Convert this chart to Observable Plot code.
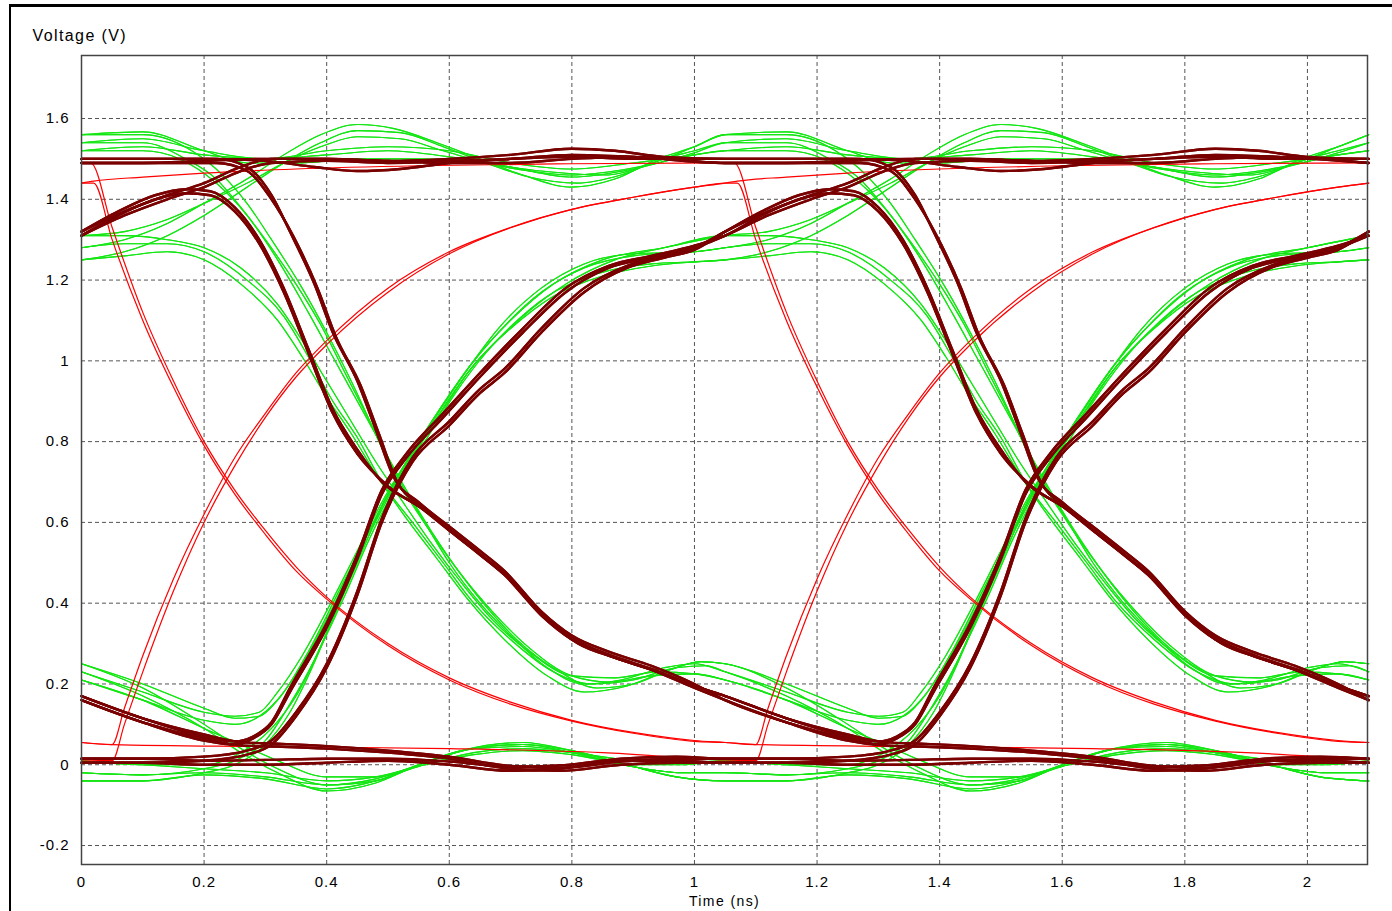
<!DOCTYPE html>
<html><head><meta charset="utf-8">
<script src="https://cdn.jsdelivr.net/npm/d3@7"></script>
<script src="https://cdn.jsdelivr.net/npm/@observablehq/plot@0.6"></script>
<style>
body{margin:0;background:#fff;}
#wrap{position:relative;width:1392px;height:911px;overflow:hidden;font-family:"Liberation Sans",Arial,sans-serif;}
#border{position:absolute;left:9px;top:4px;width:1400px;height:920px;border-left:2px solid #000;border-top:3px solid #000;pointer-events:none;}
#chart svg text{letter-spacing:1px;}
#chart svg g[aria-label="text"] text{letter-spacing:1.4px;}
</style></head><body><div id="wrap"><div id="chart"></div><div id="border"></div></div>
<script>
// unit interval (ns) read from the repeating eye
const UI = 1.05;
const xTicks = [0,0.2,0.4,0.6,0.8,1,1.2,1.4,1.6,1.8,2];
const yTicks = [-0.2,0,0.2,0.4,0.6,0.8,1,1.2,1.4,1.6];

// ---- green traces: one-UI shapes keyed by (previous, current, next) bit, [time in UI, volts]
const g111a = [[0,1.56],[0.1,1.567],[0.2,1.52],[0.27,1.49],[0.35,1.49],[0.45,1.5],[0.55,1.5],[0.65,1.49],[0.75,1.47],[0.85,1.46],[0.95,1.5],[1.0,1.53],[1.05,1.56]];
const g110a = [[0,1.56],[0.1,1.56],[0.18,1.52],[0.23,1.46],[0.27,1.39],[0.31,1.3],[0.36,1.18],[0.4,1.07],[0.44,0.95],[0.48,0.82],[0.52,0.7],[0.56,0.6],[0.6,0.5],[0.65,0.4],[0.7,0.32],[0.76,0.24],[0.82,0.2],[0.88,0.21],[0.95,0.24],[1.0,0.25],[1.05,0.23]];
const g011a = [[0,1.28],[0.07,1.3],[0.14,1.34],[0.2,1.39],[0.27,1.45],[0.33,1.51],[0.39,1.56],[0.45,1.585],[0.51,1.575],[0.58,1.54],[0.65,1.5],[0.72,1.46],[0.8,1.43],[0.87,1.45],[0.94,1.5],[1.0,1.53],[1.05,1.56]];
const g010a = [[0,1.28],[0.07,1.29],[0.14,1.29],[0.2,1.27],[0.27,1.2],[0.33,1.11],[0.37,1.01],[0.41,0.9],[0.45,0.81],[0.49,0.7],[0.54,0.6],[0.59,0.5],[0.64,0.4],[0.7,0.31],[0.77,0.23],[0.83,0.2],[0.9,0.21],[0.97,0.24],[1.02,0.245],[1.05,0.23]];
const g000a = [[0,-0.04],[0.1,-0.04],[0.2,-0.025],[0.3,-0.035],[0.4,-0.06],[0.48,-0.04],[0.55,0.0],[0.62,0.035],[0.72,0.05],[0.8,0.035],[0.89,0.0],[0.97,-0.03],[1.05,-0.04]];
const g001a = [[0,-0.04],[0.1,-0.04],[0.2,-0.02],[0.25,0.0],[0.3,0.05],[0.34,0.13],[0.37,0.22],[0.41,0.36],[0.45,0.5],[0.49,0.64],[0.53,0.75],[0.58,0.87],[0.63,0.98],[0.68,1.07],[0.75,1.17],[0.82,1.23],[0.9,1.26],[1.0,1.27],[1.05,1.28]];
const g101a = [[0,0.23],[0.1,0.18],[0.2,0.13],[0.25,0.12],[0.29,0.13],[0.32,0.18],[0.36,0.27],[0.41,0.41],[0.45,0.53],[0.49,0.65],[0.53,0.75],[0.58,0.87],[0.63,0.98],[0.68,1.08],[0.75,1.18],[0.82,1.24],[0.9,1.265],[1.0,1.27],[1.05,1.28]];
const g100a = [[0,0.23],[0.1,0.17],[0.2,0.09],[0.26,0.03],[0.32,-0.02],[0.4,-0.065],[0.48,-0.045],[0.55,0.0],[0.62,0.035],[0.72,0.055],[0.8,0.035],[0.89,0.0],[0.97,-0.03],[1.05,-0.04]];

const g111b = [[0,1.52],[0.1,1.53],[0.2,1.51],[0.3,1.5],[0.4,1.52],[0.5,1.53],[0.6,1.52],[0.7,1.49],[0.8,1.475],[0.9,1.49],[1.0,1.51],[1.05,1.52]];
const g110b = [[0,1.52],[0.1,1.52],[0.16,1.5],[0.22,1.44],[0.27,1.36],[0.32,1.25],[0.37,1.12],[0.41,1.01],[0.45,0.9],[0.49,0.79],[0.53,0.68],[0.57,0.58],[0.62,0.47],[0.67,0.38],[0.73,0.29],[0.8,0.22],[0.86,0.205],[0.93,0.22],[1.0,0.225],[1.05,0.21]];
const g011b = [[0,1.31],[0.07,1.32],[0.14,1.35],[0.2,1.39],[0.27,1.44],[0.33,1.49],[0.39,1.53],[0.45,1.555],[0.52,1.55],[0.59,1.52],[0.66,1.49],[0.73,1.47],[0.8,1.46],[0.87,1.47],[0.94,1.49],[1.0,1.51],[1.05,1.52]];
const g010b = [[0,1.31],[0.07,1.31],[0.14,1.3],[0.2,1.28],[0.26,1.23],[0.32,1.14],[0.36,1.05],[0.4,0.95],[0.44,0.85],[0.48,0.75],[0.52,0.66],[0.57,0.55],[0.62,0.45],[0.67,0.36],[0.73,0.28],[0.8,0.22],[0.87,0.215],[0.94,0.23],[1.0,0.225],[1.05,0.21]];
const g000b = [[0,0.01],[0.1,0.0],[0.2,-0.01],[0.3,-0.02],[0.4,-0.04],[0.48,-0.03],[0.56,0.0],[0.64,0.025],[0.72,0.035],[0.8,0.025],[0.9,0.0],[0.98,0.0],[1.05,0.01]];
const g001b = [[0,0.01],[0.1,0.0],[0.2,0.0],[0.26,0.03],[0.31,0.09],[0.35,0.17],[0.39,0.29],[0.43,0.42],[0.47,0.56],[0.51,0.68],[0.56,0.8],[0.61,0.92],[0.66,1.02],[0.72,1.11],[0.79,1.19],[0.87,1.25],[0.95,1.28],[1.05,1.31]];
const g101b = [[0,0.21],[0.1,0.16],[0.2,0.11],[0.25,0.1],[0.29,0.12],[0.33,0.18],[0.37,0.28],[0.42,0.43],[0.46,0.55],[0.5,0.67],[0.54,0.77],[0.59,0.89],[0.64,1.0],[0.7,1.1],[0.77,1.19],[0.85,1.25],[0.95,1.28],[1.05,1.31]];
const g100b = [[0,0.21],[0.1,0.16],[0.2,0.09],[0.26,0.05],[0.32,0.01],[0.4,-0.03],[0.48,-0.03],[0.56,0.0],[0.64,0.03],[0.72,0.04],[0.8,0.03],[0.9,0.01],[0.98,0.005],[1.05,0.01]];

const g111c = [[0,1.54],[0.1,1.55],[0.2,1.52],[0.3,1.5],[0.4,1.51],[0.5,1.52],[0.6,1.505],[0.7,1.48],[0.8,1.455],[0.9,1.475],[1.0,1.515],[1.05,1.54]];
const g110c = [[0,1.54],[0.1,1.54],[0.17,1.5],[0.22,1.45],[0.26,1.38],[0.3,1.3],[0.35,1.19],[0.39,1.09],[0.43,0.97],[0.47,0.85],[0.51,0.72],[0.55,0.62],[0.6,0.51],[0.65,0.41],[0.71,0.31],[0.78,0.23],[0.84,0.19],[0.9,0.2],[0.96,0.235],[1.01,0.255],[1.05,0.25]];
const g011c = [[0,1.25],[0.07,1.27],[0.14,1.31],[0.2,1.36],[0.27,1.43],[0.33,1.49],[0.39,1.54],[0.45,1.57],[0.52,1.565],[0.59,1.53],[0.66,1.49],[0.73,1.455],[0.81,1.44],[0.88,1.46],[0.95,1.5],[1.0,1.52],[1.05,1.54]];
const g010c = [[0,1.25],[0.07,1.26],[0.14,1.27],[0.2,1.25],[0.26,1.19],[0.32,1.1],[0.36,1.01],[0.4,0.91],[0.44,0.82],[0.48,0.72],[0.53,0.61],[0.58,0.51],[0.63,0.41],[0.69,0.31],[0.76,0.22],[0.82,0.18],[0.89,0.195],[0.96,0.235],[1.01,0.255],[1.05,0.25]];
const g000c = [[0,-0.02],[0.1,-0.025],[0.2,-0.02],[0.3,-0.03],[0.4,-0.05],[0.48,-0.035],[0.56,0.005],[0.64,0.04],[0.72,0.045],[0.8,0.03],[0.9,-0.005],[0.98,-0.02],[1.05,-0.02]];
const g001c = [[0,-0.02],[0.1,-0.025],[0.2,-0.01],[0.25,0.01],[0.3,0.06],[0.34,0.15],[0.38,0.26],[0.42,0.4],[0.46,0.54],[0.5,0.66],[0.54,0.76],[0.59,0.88],[0.64,0.99],[0.7,1.08],[0.77,1.16],[0.85,1.21],[0.93,1.235],[1.0,1.245],[1.05,1.25]];
const g101c = [[0,0.25],[0.1,0.2],[0.2,0.14],[0.25,0.115],[0.29,0.12],[0.32,0.16],[0.36,0.25],[0.41,0.39],[0.45,0.52],[0.49,0.64],[0.53,0.74],[0.58,0.86],[0.63,0.97],[0.69,1.07],[0.76,1.16],[0.84,1.215],[0.93,1.24],[1.0,1.245],[1.05,1.25]];
const g100c = [[0,0.25],[0.1,0.19],[0.2,0.1],[0.26,0.04],[0.32,-0.01],[0.4,-0.05],[0.48,-0.04],[0.56,0.005],[0.64,0.04],[0.72,0.05],[0.8,0.03],[0.9,-0.005],[0.98,-0.02],[1.05,-0.02]];

// ---- dark red traces (two close variants)
const m111a = [[0,1.5],[0.1,1.5],[0.2,1.5],[0.3,1.495],[0.38,1.48],[0.45,1.47],[0.52,1.475],[0.6,1.49],[0.7,1.5],[0.8,1.505],[0.9,1.5],[1.05,1.5]];
const m110a = [[0,1.5],[0.15,1.5],[0.22,1.5],[0.27,1.48],[0.31,1.41],[0.34,1.32],[0.38,1.19],[0.41,1.07],[0.45,0.95],[0.48,0.83],[0.51,0.71],[0.55,0.65],[0.6,0.59],[0.65,0.53],[0.69,0.48],[0.75,0.38],[0.8,0.32],[0.86,0.28],[0.93,0.245],[1.0,0.2],[1.05,0.16]];
const m011a = [[0,1.32],[0.07,1.37],[0.14,1.41],[0.2,1.44],[0.26,1.48],[0.31,1.5],[0.4,1.5],[0.5,1.495],[0.6,1.5],[0.7,1.51],[0.8,1.525],[0.87,1.52],[0.95,1.505],[1.05,1.5]];
const m010a = [[0,1.32],[0.06,1.37],[0.12,1.41],[0.17,1.425],[0.21,1.42],[0.25,1.38],[0.29,1.3],[0.33,1.18],[0.37,1.03],[0.41,0.88],[0.45,0.78],[0.49,0.7],[0.55,0.64],[0.6,0.58],[0.65,0.52],[0.69,0.47],[0.75,0.37],[0.8,0.31],[0.86,0.27],[0.93,0.235],[1.0,0.19],[1.05,0.16]];
const m000a = [[0,0.005],[0.1,0.005],[0.2,0.0],[0.3,0.0],[0.4,0.005],[0.5,0.01],[0.6,0.0],[0.7,-0.015],[0.78,-0.01],[0.88,0.01],[0.97,0.01],[1.05,0.005]];
const m001a = [[0,0.005],[0.1,0.005],[0.2,0.01],[0.27,0.025],[0.31,0.05],[0.35,0.12],[0.4,0.24],[0.45,0.42],[0.49,0.6],[0.54,0.75],[0.6,0.84],[0.65,0.92],[0.69,0.97],[0.75,1.07],[0.82,1.17],[0.89,1.23],[0.95,1.255],[1.0,1.275],[1.05,1.32]];
const m101a = [[0,0.16],[0.1,0.105],[0.2,0.06],[0.25,0.05],[0.28,0.065],[0.31,0.1],[0.34,0.18],[0.4,0.34],[0.45,0.51],[0.49,0.67],[0.53,0.76],[0.59,0.86],[0.65,0.96],[0.72,1.07],[0.79,1.17],[0.86,1.23],[0.93,1.255],[1.0,1.28],[1.05,1.32]];
const m100a = [[0,0.16],[0.1,0.105],[0.2,0.065],[0.26,0.048],[0.32,0.045],[0.4,0.04],[0.5,0.03],[0.6,0.015],[0.7,-0.01],[0.78,-0.015],[0.88,0.0],[0.97,0.005],[1.05,0.005]];

const m111b = [[0,1.49],[0.1,1.49],[0.2,1.495],[0.3,1.5],[0.4,1.5],[0.5,1.495],[0.6,1.49],[0.7,1.49],[0.8,1.5],[0.9,1.505],[1.05,1.49]];
const m110b = [[0,1.49],[0.15,1.49],[0.22,1.49],[0.27,1.47],[0.31,1.4],[0.345,1.31],[0.385,1.18],[0.415,1.06],[0.455,0.94],[0.485,0.82],[0.515,0.7],[0.555,0.64],[0.605,0.575],[0.655,0.515],[0.695,0.465],[0.755,0.37],[0.805,0.31],[0.865,0.27],[0.935,0.235],[1.0,0.195],[1.05,0.17]];
const m011b = [[0,1.31],[0.07,1.36],[0.14,1.4],[0.2,1.43],[0.26,1.47],[0.31,1.49],[0.4,1.495],[0.5,1.49],[0.6,1.495],[0.7,1.5],[0.8,1.51],[0.9,1.505],[1.05,1.49]];
const m010b = [[0,1.31],[0.06,1.36],[0.12,1.4],[0.17,1.415],[0.21,1.41],[0.25,1.37],[0.29,1.29],[0.33,1.17],[0.37,1.02],[0.41,0.87],[0.45,0.77],[0.5,0.69],[0.56,0.63],[0.61,0.57],[0.66,0.51],[0.7,0.46],[0.76,0.36],[0.81,0.3],[0.87,0.265],[0.94,0.23],[1.0,0.195],[1.05,0.17]];
const m000b = [[0,0.015],[0.1,0.015],[0.2,0.01],[0.3,0.012],[0.4,0.015],[0.5,0.015],[0.6,0.008],[0.7,-0.005],[0.78,-0.002],[0.88,0.015],[0.97,0.02],[1.05,0.015]];
const m001b = [[0,0.015],[0.1,0.015],[0.2,0.02],[0.27,0.035],[0.31,0.06],[0.35,0.13],[0.4,0.25],[0.45,0.43],[0.49,0.61],[0.54,0.76],[0.6,0.85],[0.65,0.93],[0.69,0.98],[0.75,1.08],[0.82,1.18],[0.89,1.235],[0.95,1.26],[1.0,1.28],[1.05,1.31]];
const m101b = [[0,0.17],[0.1,0.115],[0.2,0.07],[0.25,0.058],[0.28,0.07],[0.31,0.105],[0.34,0.19],[0.4,0.35],[0.45,0.52],[0.49,0.68],[0.53,0.77],[0.59,0.87],[0.65,0.97],[0.72,1.08],[0.79,1.18],[0.86,1.235],[0.93,1.26],[1.0,1.285],[1.05,1.31]];
const m100b = [[0,0.17],[0.1,0.115],[0.2,0.075],[0.26,0.056],[0.32,0.052],[0.4,0.046],[0.5,0.035],[0.6,0.02],[0.7,-0.003],[0.78,-0.008],[0.88,0.008],[0.97,0.015],[1.05,0.015]];

// ---- red (ideal) traces
const rHF  = [[0,1.49],[0.015,1.49],[0.05,1.33],[0.1,1.12],[0.15,0.95],[0.2,0.8],[0.25,0.68],[0.3,0.58],[0.35,0.49],[0.4,0.415],[0.5,0.3],[0.6,0.215],[0.7,0.155],[0.8,0.11],[0.9,0.08],[1.0,0.06],[1.05,0.055]];
const rRHF = [[0,1.44],[0.02,1.44],[0.05,1.3],[0.1,1.1],[0.15,0.935],[0.2,0.79],[0.25,0.67],[0.3,0.57],[0.35,0.48],[0.4,0.41],[0.5,0.295],[0.6,0.21],[0.7,0.15],[0.8,0.108],[0.9,0.078],[1.0,0.058],[1.05,0.055]];
const rFR  = [[0,0.055],[0.05,0.05],[0.07,0.14],[0.1,0.27],[0.15,0.46],[0.2,0.62],[0.25,0.76],[0.3,0.87],[0.35,0.97],[0.4,1.05],[0.5,1.18],[0.6,1.27],[0.7,1.33],[0.8,1.375],[0.9,1.405],[1.0,1.43],[1.05,1.44]];
const rLR  = [[0,0.012],[0.05,0.01],[0.07,0.1],[0.1,0.23],[0.15,0.43],[0.2,0.6],[0.25,0.74],[0.3,0.86],[0.35,0.96],[0.4,1.04],[0.5,1.17],[0.6,1.265],[0.7,1.33],[0.8,1.375],[0.9,1.405],[1.0,1.43],[1.05,1.44]];
const rRHH = [[0,1.44],[0.02,1.445],[0.1,1.455],[0.2,1.465],[0.35,1.475],[0.55,1.483],[0.8,1.488],[1.05,1.49]];
const rFL  = [[0,0.055],[0.05,0.05],[0.3,0.045],[0.6,0.04],[0.85,0.03],[1.05,0.012]];

const greenShapes = {
  a: {"111":g111a,"110":g110a,"011":g011a,"010":g010a,"000":g000a,"001":g001a,"101":g101a,"100":g100a},
  b: {"111":g111b,"110":g110b,"011":g011b,"010":g010b,"000":g000b,"001":g001b,"101":g101b,"100":g100b},
  c: {"111":g111c,"110":g110c,"011":g011c,"010":g010c,"000":g000c,"001":g001c,"101":g101c,"100":g100c}
};
const maroonShapes = {
  a: {"111":m111a,"110":m110a,"011":m011a,"010":m010a,"000":m000a,"001":m001a,"101":m101a,"100":m100a},
  b: {"111":m111b,"110":m110b,"011":m011b,"010":m010b,"000":m000b,"001":m001b,"101":m101b,"100":m100b}
};
const redSequences = [[rHF,rFR],[rLR,rRHF],[rRHF,rFL],[rFR,rRHH],[rRHH,rHF],[rFL,rLR]];

function compose(s1, s2, id) {
  const rows = s1.map(([u, v]) => ({t: u, v, id}));
  for (const [u, v] of s2.slice(1)) rows.push({t: u + UI, v, id});
  return rows;
}
const patterns = d3.range(16).map(i => i.toString(2).padStart(4, "0"));
function buildRows(shapeSets) {
  const rows = [];
  for (const [variant, shapes] of Object.entries(shapeSets))
    for (const p of patterns) rows.push(...compose(shapes[p.slice(0, 3)], shapes[p.slice(1)], variant + p));
  return rows;
}
const greenRows = buildRows(greenShapes);
const maroonRows = buildRows(maroonShapes);
const redRows = [];
redSequences.forEach((s, i) => redRows.push(...compose(s[0], s[1], "r" + i)));

const fmt = d => String(+d.toFixed(1)).replace("\u2212", "-");

const chart = Plot.plot({
  width: 1392, height: 911,
  marginLeft: 81, marginRight: 25, marginTop: 55, marginBottom: 47,
  x: {domain: [0, 2.098]},
  y: {domain: [-0.247, 1.756]},
  style: {fontFamily: "'Liberation Sans', Arial, sans-serif", fontSize: "15px", color: "#000", background: "#fff"},
  marks: [
    Plot.ruleX(xTicks.filter(d => d > 0), {stroke: "#555", strokeDasharray: "4,3", strokeWidth: 1}),
    Plot.ruleY(yTicks, {stroke: "#555", strokeDasharray: "4,3", strokeWidth: 1}),
    Plot.line(greenRows, {x: "t", y: "v", z: "id", stroke: "#14e614", strokeWidth: 1.1, curve: "monotone-x"}),
    Plot.line(redRows, {x: "t", y: "v", z: "id", stroke: "#ff0000", strokeWidth: 1.2, curve: "monotone-x"}),
    Plot.line(maroonRows, {x: "t", y: "v", z: "id", stroke: "#7a0000", strokeWidth: 2.4, curve: "monotone-x"}),
    Plot.frame({stroke: "#444", strokeWidth: 1.5}),
    Plot.axisX(xTicks, {tickSize: 0, tickPadding: 12, tickFormat: fmt, label: null, fontSize: 15}),
    Plot.axisY(yTicks, {tickSize: 0, tickPadding: 12, tickFormat: fmt, label: null, fontSize: 15}),
    Plot.text(["Voltage (V)"], {frameAnchor: "top-left", dx: -49, dy: -20, textAnchor: "start", lineAnchor: "middle", fontSize: 16}),
    Plot.text(["Time (ns)"], {frameAnchor: "bottom", dy: 37, lineAnchor: "middle", fontSize: 14})
  ]
});
document.getElementById("chart").appendChild(chart);
</script></body></html>
